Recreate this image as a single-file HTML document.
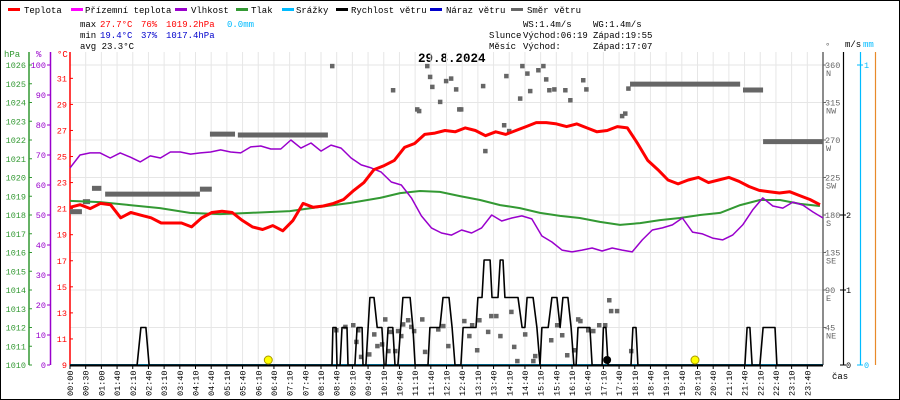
<!DOCTYPE html>
<html><head><meta charset="utf-8"><style>
html,body{margin:0;padding:0;background:#fff}
svg{display:block}
text{font-family:"Liberation Mono",monospace;font-size:9px}
</style></head><body>
<svg id="c" width="900" height="400" xmlns="http://www.w3.org/2000/svg">
<rect x="0.5" y="0.5" width="899" height="399" fill="#fff" stroke="#000"/>
<g>
<rect x="8" y="8" width="12" height="3" fill="#f00"/><text x="24" y="13">Teplota</text>
<rect x="71" y="8" width="12" height="3" fill="#f0f"/><text x="85" y="13">Přízemní teplota</text>
<rect x="175" y="8" width="12" height="3" fill="#90c"/><text x="191" y="13">Vlhkost</text>
<rect x="236" y="8" width="12" height="3" fill="#393"/><text x="251" y="13">Tlak</text>
<rect x="282" y="8" width="12" height="3" fill="#0bf"/><text x="296" y="13">Srážky</text>
<rect x="336" y="8" width="12" height="3" fill="#000"/><text x="351" y="13">Rychlost větru</text>
<rect x="430" y="8" width="12" height="3" fill="#00c"/><text x="446" y="13">Náraz větru</text>
<rect x="511" y="8" width="12" height="3" fill="#666"/><text x="527" y="13">Směr větru</text>
</g>
<g>
<text x="80" y="27">max</text>
<text x="100" y="27" fill="#f00">27.7°C</text>
<text x="141" y="27" fill="#f00">76%</text>
<text x="166" y="27" fill="#f00">1019.2hPa</text>
<text x="227" y="27" fill="#0bf">0.0mm</text>
<text x="80" y="38">min</text>
<text x="100" y="38" fill="#00c">19.4°C</text>
<text x="141" y="38" fill="#00c">37%</text>
<text x="166" y="38" fill="#00c">1017.4hPa</text>
<text x="80" y="49">avg 23.3°C</text>
<text x="523" y="27">WS:1.4m/s</text>
<text x="593" y="27">WG:1.4m/s</text>
<text x="489" y="38">Slunce</text>
<text x="523" y="38">Východ:06:19</text>
<text x="593" y="38">Západ:19:55</text>
<text x="489" y="49">Měsíc</text>
<text x="523" y="49">Východ:</text>
<text x="593" y="49">Západ:17:07</text>
<text x="418" y="62" style="font-size:12.5px;font-weight:bold">29.8.2024</text>
</g>
<g id="grid"></g>
<g id="axes"></g>
<g id="series"></g>
</svg>
<script>
const NS="http://www.w3.org/2000/svg";
// ---- data ----
const tempValues=[21.1,21.3,21.0,21.4,21.3,20.3,20.7,20.5,20.3,19.9,19.9,19.9,19.6,20.3,20.7,20.8,20.7,20.1,19.6,19.4,19.7,19.3,20.1,21.4,21.1,21.2,21.4,21.7,22.4,23.0,24.0,24.3,24.7,25.7,26.0,26.7,26.8,27.0,26.9,27.2,27.0,26.6,26.9,26.7,27.0,27.3,27.6,27.6,27.5,27.3,27.5,27.2,26.9,27.0,27.3,27.2,26.0,24.7,24.0,23.2,22.9,23.2,23.4,23.0,23.2,23.4,23.1,22.7,22.4,22.3,22.2,22.3,22.0,21.7,21.3];
const humValues=[65.7,70,70.7,70.7,69,70.7,69.3,67.7,69.7,69,71,71,70.3,70.7,71,71.7,71,70.7,72.7,73,72,72,75,72.3,74,71.3,73.3,72.3,69,66.7,65.7,64.3,61,60,55.7,49.7,45.7,44,43.3,45,44,45.7,50,48,49,49.7,48.7,43,41,38.3,37.7,38.3,39,38,39,38.3,37.7,41.7,45,45.7,46.7,49,44.3,43.7,42.3,41.7,43.3,46.7,51.7,55.7,53,52.3,54.3,53.3,51,49];
const pressHours=[0,0.96,1.91,2.87,3.82,4.78,5.74,7.01,7.97,8.92,9.88,10.52,11.16,11.79,12.43,13.07,13.71,14.34,14.98,15.62,16.25,16.89,17.53,18.17,18.8,19.44,20.08,20.72,21.36,21.99,22.63,23.27,23.9];
const pressValues=[1018.75,1018.69,1018.53,1018.37,1018.11,1018.05,1018.11,1018.21,1018.43,1018.64,1018.91,1019.17,1019.28,1019.23,1019.01,1018.8,1018.53,1018.37,1018.11,1017.95,1017.84,1017.63,1017.47,1017.57,1017.73,1017.84,1018.0,1018.11,1018.53,1018.8,1018.8,1018.59,1018.48];
const windHours=[0,2.14,2.26,2.42,2.52,8.35,8.38,8.48,8.51,8.61,8.67,8.83,8.86,9.08,9.15,9.31,9.34,9.43,9.56,9.69,9.79,9.94,10.01,10.07,10.14,10.29,10.36,10.45,10.61,10.84,10.93,11.0,11.41,11.47,11.79,11.89,12.08,12.18,12.27,12.46,12.53,12.94,13.0,13.13,13.2,13.39,13.45,13.64,13.71,13.8,13.86,14.28,14.41,14.5,14.57,14.76,14.88,14.98,15.04,15.24,15.36,15.52,15.62,15.71,15.87,15.97,16.06,16.13,16.19,16.57,16.64,16.96,17.0,17.08,17.15,17.88,17.94,18.04,18.1,21.51,21.58,21.67,21.74,21.99,22.09,22.47,22.53,24];
const windSpeed=[0,0,0.5,0.5,0,0,0.5,0.5,0,0,0.5,0.5,0,0,0.5,0.5,0,0,0.9,0.9,0.5,0.5,0,0,0.5,0.5,0,0,0.9,0.9,0.5,0,0,0.5,0.5,0.9,0.9,0.5,0,0,0.5,0.5,0.9,0.9,1.4,1.4,0.9,0.9,1.4,1.4,0.9,0.9,0.5,0.5,0.9,0.9,0.5,0,0.5,0.5,0.9,0.9,0.5,0.9,0.9,0.5,0,0,0.5,0.5,0,0,0.5,0.5,0,0,0.5,0.5,0,0,0.5,0.5,0,0,0.5,0.5,0,0];
const dirSegStart=[0,0.41,0.7,1.12,4.14,4.46,5.35,17.85,21.45,22.09];
const dirSegEnd=[0.38,0.64,1.0,4.14,4.52,5.26,8.22,21.36,22.09,24];
const dirSegDeg=[184,196,212,205,211,277,276,337,330,268];
const dirDotHours=[8.35,11.38,11.47,11.54,11.98,12.14,12.30,11.79,11.06,11.12,12.40,12.46,13.16,13.90,14.41,14.57,14.92,15.08,15.17,15.27,15.43,15.78,15.94,14.34,14.66,10.29,13.83,13.99,13.23,16.35,16.45,17.59,17.69,17.79,
8.48,8.77,9.02,9.18,9.12,9.27,9.53,9.69,9.79,9.94,10.04,10.14,10.20,10.36,10.45,10.55,10.61,10.77,10.87,10.96,11.22,11.31,11.73,11.89,12.05,12.56,12.72,12.81,12.97,13.04,13.32,13.42,13.58,13.71,14.06,14.15,14.25,14.50,14.76,14.82,15.33,15.52,15.68,15.84,16.06,16.19,16.26,16.51,16.67,16.86,17.05,17.18,17.24,17.43,17.88];
const dirDotDeg=[359,359,346,334,341,344,331,316,307,305,307,307,335,347,359,350,354,359,343,330,331,330,318,320,329,330,288,281,257,342,331,299,302,332,
42,46,48,42,28,10,13,37,23,25,55,17,40,17,41,35,49,54,46,41,55,16,43,47,23,53,35,48,18,54,40,59,59,35,64,22,5,37,5,11,30,48,36,12,18,55,53,42,41,48,48,78,65,65,17];
const timeLabels=["00:00","00:30","01:00","01:40","02:10","02:40","03:10","03:40","04:10","04:40","05:10","05:40","06:10","06:40","07:10","07:40","08:10","08:40","09:10","09:40","10:10","10:40","11:10","11:40","12:10","12:40","13:10","13:40","14:10","14:40","15:10","15:40","16:10","16:40","17:10","17:40","18:10","18:40","19:10","19:40","20:10","20:40","21:10","21:40","22:10","22:40","23:10","23:40"];
const hpaTicks=[1010,1011,1012,1013,1014,1015,1016,1017,1018,1019,1020,1021,1022,1023,1024,1025,1026];
const humTicks=[0,10,20,30,40,50,60,70,80,90,100];
const tempTicks=[9,11,13,15,17,19,21,23,25,27,29,31];
const dirTicks=[45,90,135,180,225,270,315,360];
const dirNames=["NE","E","SE","S","SW","W","NW","N"];
const windTicks=[0,1,2];
const rainTicks=[0,1];
const sunHours=[6.32,19.92];
const moonHours=[17.12];
// ---- scales ----
const X0=70,X1=823,Y0=365;
const xH=h=>X0+h/24*(X1-X0);
const yT=t=>Y0-(t-9)*13.03;
const yP=p=>Y0-(p-1010)*18.75;
const yHum=v=>Y0-v*3;
const yD=d=>Y0-d/1.2;
const yW=w=>Y0-w*75;
const yR=r=>Y0-r*300;
function mk(tag,attrs,parent,txt){const e=document.createElementNS(NS,tag);for(const k in attrs)e.setAttribute(k,attrs[k]);if(txt!==undefined)e.textContent=txt;parent.appendChild(e);return e;}
const G=document.getElementById('grid'),A=document.getElementById('axes'),S=document.getElementById('series');
for(let i=0;i<timeLabels.length;i++){const x=X0+i*(X1-X0)/48;
 const l=mk('line',{x1:x,x2:x,y1:52,y2:Y0,stroke:'#e6e6e6','stroke-width':1},G);
 
 
 mk('line',{x1:x,x2:x,y1:Y0,y2:Y0+4,stroke:'#000'},G);
 const t=mk('text',{x:0,y:0,transform:`translate(${x+3},${396}) rotate(-90)`,style:'font-size:8.5px'},A,timeLabels[i]);
 
 
}
for(const d of dirTicks){const y=yD(d);
 const l=mk('line',{x1:X0,x2:X1,y1:y,y2:y,stroke:'#e6e6e6'},G);
 
 }
mk('line',{x1:29,x2:29,y1:52,y2:Y0,stroke:'#393','stroke-width':1.5},A);
mk('line',{x1:50.5,x2:50.5,y1:52,y2:Y0,stroke:'#90c','stroke-width':1.5},A);
mk('line',{x1:70,x2:70,y1:52,y2:Y0,stroke:'#f00','stroke-width':1.5},A);
mk('text',{x:4,y:57,fill:'#393'},A,'hPa');
mk('text',{x:36,y:57,fill:'#90c'},A,'%');
mk('text',{x:57,y:57,fill:'#f00'},A,'°C');
for(const p of hpaTicks){const y=yP(p);mk('line',{x1:29,x2:32,y1:y,y2:y,stroke:'#393'},A);
 const t=mk('text',{x:26,y:y+3,fill:'#393','text-anchor':'end','style':'font-size:8.5px'},A,p);
 
 }
for(const h of humTicks){const y=yHum(h);mk('line',{x1:47,x2:50,y1:y,y2:y,stroke:'#90c'},A);
 const t=mk('text',{x:46,y:y+3,fill:'#90c','text-anchor':'end','style':'font-size:8.5px'},A,h);
 
 }
for(const c of tempTicks){const y=yT(c);mk('line',{x1:70,x2:73,y1:y,y2:y,stroke:'#f00'},A);
 const t=mk('text',{x:67,y:y+3,fill:'#f00','text-anchor':'end','style':'font-size:8.5px'},A,c);
 
 }
mk('line',{x1:X1,x2:X1,y1:52,y2:Y0,stroke:'#666','stroke-width':1.5},A);
mk('line',{x1:843.5,x2:843.5,y1:52,y2:Y0,stroke:'#000','stroke-width':1.2},A);
mk('line',{x1:860.5,x2:860.5,y1:52,y2:Y0,stroke:'#0bf','stroke-width':1.2},A);
mk('line',{x1:875.5,x2:875.5,y1:52,y2:Y0,stroke:'#e88a2a','stroke-width':1.2},A);
mk('text',{x:825,y:49,fill:'#666'},A,'°');
mk('text',{x:845,y:47},A,'m/s');
mk('text',{x:863,y:47,fill:'#0bf'},A,'mm');
mk('text',{x:832,y:379,style:'font-size:9px'},A,'čas');
dirTicks.forEach((d,i)=>{const y=yD(d);mk('line',{x1:X1,x2:X1+3,y1:y,y2:y,stroke:'#666'},A);
 const t=mk('text',{x:825,y:y+3,fill:'#666',style:'font-size:8.5px'},A,d);
 
 
 mk('text',{x:826,y:y+11,fill:'#666',style:'font-size:8.5px'},A,dirNames[i]);});
for(const w of windTicks){const y=yW(w);mk('line',{x1:840,x2:846,y1:y,y2:y,stroke:'#000'},A);
 const t=mk('text',{x:846,y:y+3,style:'font-size:8.5px'},A,w);
 
 }
for(const r of rainTicks){const y=yR(r);mk('line',{x1:857,x2:863,y1:y,y2:y,stroke:'#0bf'},A);
 const t=mk('text',{x:864,y:y+3,fill:'#0bf',style:'font-size:8.5px'},A,r);
 
 }
function line(pts,color,w,name){const e=mk('polyline',{points:pts.map(p=>p[0].toFixed(1)+','+p[1].toFixed(1)).join(' '),fill:'none',stroke:color,'stroke-width':w,'stroke-linejoin':'round'},S);
 
 return e;}
dirSegDeg.forEach((d,i)=>{const e=mk('line',{x1:xH(dirSegStart[i]),x2:xH(dirSegEnd[i]),y1:yD(d),y2:yD(d),stroke:'#666','stroke-width':5},S);
 
 });
dirDotDeg.forEach((d,i)=>{const e=mk('rect',{x:xH(dirDotHours[i])-2,y:yD(d)-2,width:4.5,height:4.5,fill:'#666'},S);
 
 });
line([[X0,yR(0)],[X1,yR(0)]],'#0bf',2,'rain-line');
line(windHours.map((h,i)=>[xH(h),yW(windSpeed[i])]),'#000',1.6,'wind-speed-line');
line([[X0,Y0+0.5],[X1,Y0+0.5]],'#000',2,'wind-zero-base');
line(pressHours.map((h,i)=>[xH(h),yP(pressValues[i])]),'#393',2,'pressure-line');
line(humValues.map((v,i)=>[xH(i*24/(humValues.length-1)),yHum(v)]),'#90c',1.5,'humidity-line');
line(tempValues.map((v,i)=>[xH(i*24*0.996/(tempValues.length-1)),yT(v)]),'#f00',3,'temperature-line');
sunHours.forEach(h=>{const e=mk('circle',{cx:xH(h),cy:360,r:4,fill:'#ff0',stroke:'#a90','stroke-width':1},S);
 
 });
moonHours.forEach(h=>{const e=mk('circle',{cx:xH(h),cy:360,r:4,fill:'#000'},S);
 
 });
</script>
</body></html>
